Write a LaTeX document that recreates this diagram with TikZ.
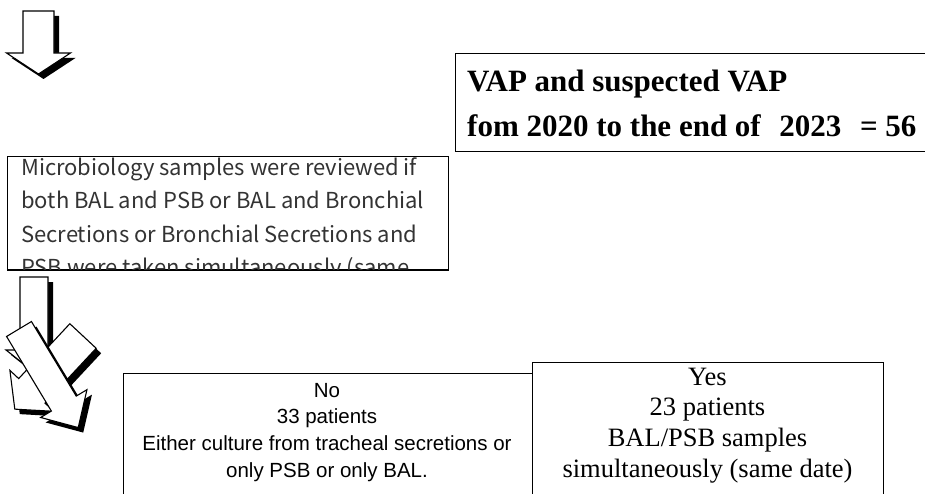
\documentclass[tikz,border=0pt]{standalone}
\usepackage{fontspec}
\setmainfont{Liberation Serif}
\newfontfamily\arialfont{Liberation Sans}
\newfontfamily\gothicfont{Noto Sans CJK JP}
\usetikzlibrary{calc}
\tikzstyle{box} = [draw, line width=1.3pt, inner sep=0pt, anchor=north west, minimum width=10pt]
\tikzstyle{arrowbody} = [draw=black, fill=white, line width=1.1pt, line join=miter]
\tikzstyle{arrowshade} = [fill=black]
\tikzstyle{vaptext} = [anchor=base west, inner sep=0pt, font=\bfseries\fontsize{31}{36}\selectfont]
\tikzstyle{mictext} = [anchor=base west, inner sep=0pt, text=black!80, font=\gothicfont\fontsize{22}{26}\selectfont]
\tikzstyle{notext} = [anchor=base, inner sep=0pt, font=\arialfont\fontsize{20.5}{24}\selectfont]
\tikzstyle{yestext} = [anchor=base, inner sep=0pt, font=\fontsize{26.5}{30}\selectfont]

% block arrow: #1 tail point, #2 angle, #3 length
% widths from \sw (shaft), \hw (head), \hl (head length), shadow offset \sh
\newcommand{\blockarrow}[3]{%
  \begin{scope}[shift={#1}, shift={(\sh,\sh)}, rotate=#2]
    \fill[arrowshade] (0,-\sw) -- ({#3-\hl},-\sw) -- ({#3-\hl},-\hw) -- (#3,0)
      -- ({#3-\hl},\hw) -- ({#3-\hl},\sw) -- (0,\sw) -- cycle;
  \end{scope}
  \begin{scope}[shift={#1}, rotate=#2]
    \draw[arrowbody] (0,-\sw) -- ({#3-\hl},-\sw) -- ({#3-\hl},-\hw) -- (#3,0)
      -- ({#3-\hl},\hw) -- ({#3-\hl},\sw) -- (0,\sw) -- cycle;
  \end{scope}}

\begin{document}
\begin{tikzpicture}[x=1pt,y=-1pt]
  \useasboundingbox (0,0) rectangle (925,494);
  \clip (0,0) rectangle (925,494);
  \def\sh{5}

  % TOP ARROW
  \def\sw{15.5} \def\hw{32} \def\hl{21}
  \blockarrow{(38.5,11)}{-90}{63}

  % VAP BOX
  \node[box, minimum width=490, minimum height=98] (vap) at (455,53) {};
  \node[vaptext] (vap1) at (467,92) {VAP and suspected VAP};
  \node[vaptext] (vap2) at (467,137) {fom 2020 to the end of\hspace{0.6em}2023\hspace{0.6em}=\hspace{0.25em}56};

  % MICROBIOLOGY BOX
  \node[box, minimum width=441, minimum height=113] (mic) at (7,156) {};
  \begin{scope}
    \clip (mic.north west) rectangle (mic.south east);
    \foreach \txt [count=\i] in {{Microbiology samples were reviewed if},
        {both BAL and PSB or BAL and Bronchial},
        {Secretions or Bronchial Secretions and},
        {PSB were taken simultaneously (same}}
      \node[mictext] (mic\i) at (21,{176+33*(\i-1)}) {\txt};
  \end{scope}
  \draw[line width=1.3pt] (mic.south west) -- (mic.south east);

  % LOWER ARROWS
  \def\sw{14} \def\hw{28} \def\hl{22}
  \blockarrow{(34,277)}{-90}{95}
  \def\sw{18} \def\hw{30} \def\hl{25}
  \blockarrow{(83,336)}{-133}{100}
  \def\sw{14.5} \def\hw{27} \def\hl{28}
  \blockarrow{(19,329)}{-59}{115}

  % RESULT BOXES
  \node[box, minimum width=420, minimum height=150] (no) at (123,373) {};
  \foreach \txt [count=\i] in {{No}, {33 patients},
      {Either culture from tracheal secretions or}, {only PSB or only BAL.}}
    \node[notext] (no\i) at (327,{397+26.7*(\i-1)}) {\txt};
  \node[box, fill=white, minimum width=351, minimum height=150] (yes) at (532,362) {};
  \foreach \txt [count=\i] in {{Yes}, {23 patients}, {BAL/PSB samples},
      {simultaneously (same date)}}
    \node[yestext] (yes\i) at (707.5,{385+30.7*(\i-1)}) {\txt};
\end{tikzpicture}
\end{document}
